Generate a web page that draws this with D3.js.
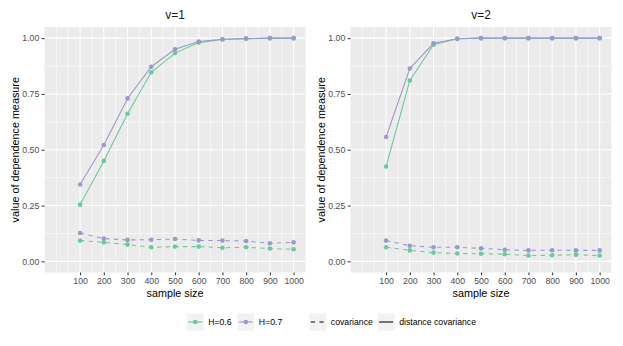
<!DOCTYPE html>
<html>
<head>
<meta charset="utf-8">
<script src="https://cdn.jsdelivr.net/npm/d3@7"></script>
<style>
  body { margin: 0; background: #fff; }
  svg { font-family: "Liberation Sans", Arial, sans-serif; }
</style>
</head>
<body>
<svg id="chart" width="623" height="346"></svg>
<script>
// sample sizes on the x axis
const sizes = [100, 200, 300, 400, 500, 600, 700, 800, 900, 1000];
const panels = ["v=1", "v=2"];
const groups = ["H=0.6", "H=0.7"];
const measures = ["covariance", "distance covariance"];

// v=1 values
const v1DcovH06 = [0.254, 0.450, 0.661, 0.847, 0.933, 0.980, 0.994, 0.998, 1.000, 1.000];
const v1DcovH07 = [0.344, 0.521, 0.730, 0.872, 0.950, 0.985, 0.995, 0.998, 1.000, 1.000];
const v1CovH06 = [0.093, 0.085, 0.075, 0.063, 0.066, 0.066, 0.061, 0.063, 0.057, 0.054];
const v1CovH07 = [0.127, 0.102, 0.096, 0.097, 0.100, 0.094, 0.093, 0.091, 0.081, 0.085];

// v=2 values
const v2DcovH06 = [0.425, 0.810, 0.971, 0.997, 1.000, 1.000, 1.000, 1.000, 1.000, 1.000];
const v2DcovH07 = [0.557, 0.864, 0.977, 0.997, 1.000, 1.000, 1.000, 1.000, 1.000, 1.000];
const v2CovH06 = [0.063, 0.049, 0.039, 0.035, 0.034, 0.032, 0.026, 0.027, 0.030, 0.026];
const v2CovH07 = [0.093, 0.070, 0.063, 0.063, 0.058, 0.052, 0.049, 0.050, 0.049, 0.049];

const yTicks = [0, 0.25, 0.5, 0.75, 1];
const yMinor = [0.125, 0.375, 0.625, 0.875];
const xMinor = [0, 50, 150, 250, 350, 450, 550, 650, 750, 850, 950];

const colors = { "H=0.6": "#66CC99", "H=0.7": "#9999CC" };
const dashes = { "covariance": "4.3,4.3", "distance covariance": null };

// build series per panel
const panelData = {
  "v=1": [
    { group: "H=0.6", measure: "covariance", values: v1CovH06 },
    { group: "H=0.6", measure: "distance covariance", values: v1DcovH06 },
    { group: "H=0.7", measure: "covariance", values: v1CovH07 },
    { group: "H=0.7", measure: "distance covariance", values: v1DcovH07 }
  ],
  "v=2": [
    { group: "H=0.6", measure: "covariance", values: v2CovH06 },
    { group: "H=0.6", measure: "distance covariance", values: v2DcovH06 },
    { group: "H=0.7", measure: "covariance", values: v2CovH07 },
    { group: "H=0.7", measure: "distance covariance", values: v2DcovH07 }
  ]
};

const svg = d3.select("#chart");

// panel boxes
const panelLeft = [44.5, 350.5];
const panelWidth = 261;
const panelTop = 27;
const panelBottom = 272.5;

const y = d3.scaleLinear().domain([-0.05, 1.05]).range([panelBottom, panelTop]);

panels.forEach((name, i) => {
  const x = d3.scaleLinear().domain([-50, 1050]).range([panelLeft[i], panelLeft[i] + panelWidth]);
  const g = svg.append("g");

  // panel background
  g.append("rect")
    .attr("x", x.range()[0]).attr("y", panelTop)
    .attr("width", panelWidth).attr("height", panelBottom - panelTop)
    .attr("fill", "#EBEBEB");

  // minor grid
  g.selectAll(".ymin").data(yMinor).enter().append("line")
    .attr("x1", x.range()[0]).attr("x2", x.range()[1])
    .attr("y1", d => y(d)).attr("y2", d => y(d))
    .attr("stroke", "#fff").attr("stroke-width", 0.55);
  g.selectAll(".xmin").data(xMinor).enter().append("line")
    .attr("x1", d => x(d)).attr("x2", d => x(d))
    .attr("y1", panelTop).attr("y2", panelBottom)
    .attr("stroke", "#fff").attr("stroke-width", 0.55);

  // major grid
  g.selectAll(".ymaj").data(yTicks).enter().append("line")
    .attr("x1", x.range()[0]).attr("x2", x.range()[1])
    .attr("y1", d => y(d)).attr("y2", d => y(d))
    .attr("stroke", "#fff").attr("stroke-width", 1.07);
  g.selectAll(".xmaj").data(sizes).enter().append("line")
    .attr("x1", d => x(d)).attr("x2", d => x(d))
    .attr("y1", panelTop).attr("y2", panelBottom)
    .attr("stroke", "#fff").attr("stroke-width", 1.07);

  // axes
  const xAxis = g.append("g")
    .attr("transform", `translate(0,${panelBottom})`)
    .call(d3.axisBottom(x).tickValues(sizes).tickFormat(d3.format("d")).tickSize(2.75).tickPadding(2.5));
  const yAxis = g.append("g")
    .attr("transform", `translate(${x.range()[0]},0)`)
    .call(d3.axisLeft(y).tickValues(yTicks).tickFormat(d3.format(".2f")).tickSize(2.75).tickPadding(2.5));
  [xAxis, yAxis].forEach(a => {
    a.select(".domain").remove();
    a.selectAll(".tick line").attr("stroke", "#333333").attr("stroke-width", 1.07);
    a.selectAll(".tick text").attr("fill", "#4D4D4D")
      .style("font-size", "8.7px").style("font-family", "Liberation Sans, Arial, sans-serif");
  });

  // lines
  const line = d3.line().x((d, j) => x(sizes[j])).y(d => y(d));
  const series = panelData[name];
  g.selectAll(".series").data(series).enter().append("path")
    .attr("d", s => line(s.values))
    .attr("fill", "none")
    .attr("stroke", s => colors[s.group])
    .attr("stroke-width", 1.07)
    .attr("stroke-dasharray", s => dashes[s.measure]);

  // points
  series.forEach(s => {
    g.selectAll(null).data(s.values).enter().append("circle")
      .attr("cx", (d, j) => x(sizes[j]))
      .attr("cy", d => y(d))
      .attr("r", 2.3)
      .attr("fill", colors[s.group]);
  });

  // titles
  const cx = (x.range()[0] + x.range()[1]) / 2;
  g.append("text").attr("x", cx).attr("y", 18.5)
    .attr("text-anchor", "middle").attr("fill", "#1A1A1A")
    .style("font-size", "12px").text(name);
  g.append("text").attr("x", cx).attr("y", 297)
    .attr("text-anchor", "middle").attr("fill", "#000")
    .style("font-size", "10.8px").text("sample size");
  const ty = (panelTop + panelBottom) / 2;
  const tx = x.range()[0] - 26;
  g.append("text")
    .attr("transform", `translate(${tx},${ty}) rotate(-90)`)
    .attr("text-anchor", "middle").attr("fill", "#000")
    .style("font-size", "10.8px").text("value of dependence measure");
});

// legend
const legend = svg.append("g");
const keyY = 313.5;
const keySize = 17;
const colourKeyX = [186.7, 237.3];
groups.forEach((gName, i) => {
  const kx = colourKeyX[i];
  legend.append("rect").attr("x", kx).attr("y", keyY)
    .attr("width", keySize).attr("height", keySize).attr("fill", "#F2F2F2");
  legend.append("line")
    .attr("x1", kx + 1.5).attr("x2", kx + keySize - 1.5)
    .attr("y1", keyY + keySize / 2).attr("y2", keyY + keySize / 2)
    .attr("stroke", colors[gName]).attr("stroke-width", 1.07);
  legend.append("circle").attr("cx", kx + keySize / 2).attr("cy", keyY + keySize / 2)
    .attr("r", 2.3).attr("fill", colors[gName]);
  legend.append("text").attr("x", kx + keySize + 4.5).attr("y", keyY + keySize / 2 + 3)
    .style("font-size", "8.7px").attr("fill", "#000").text(gName);
});

const typeKeyX = [309.3, 377.7];
measures.forEach((mName, i) => {
  const kx = typeKeyX[i];
  legend.append("rect").attr("x", kx).attr("y", keyY)
    .attr("width", keySize).attr("height", keySize).attr("fill", "#F2F2F2");
  legend.append("line")
    .attr("x1", kx + 1.5).attr("x2", kx + keySize - 1.5)
    .attr("y1", keyY + keySize / 2).attr("y2", keyY + keySize / 2)
    .attr("stroke", "#000").attr("stroke-width", 1.07)
    .attr("stroke-dasharray", dashes[mName]);
  legend.append("text").attr("x", kx + keySize + 4.5).attr("y", keyY + keySize / 2 + 3)
    .style("font-size", "8.7px").attr("fill", "#000").text(mName);
});
</script>
</body>
</html>
